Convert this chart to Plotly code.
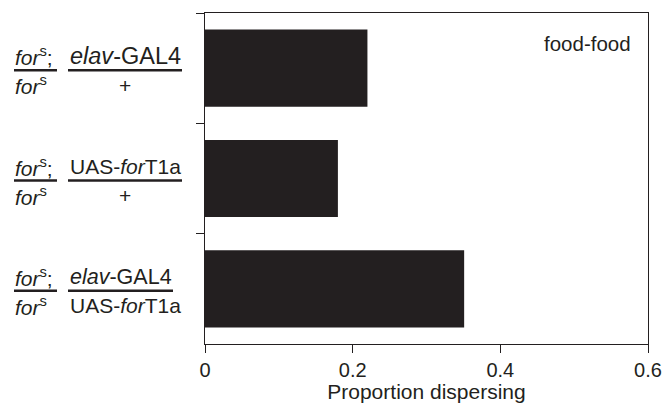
import plotly.graph_objects as go

# ---- data ----
genotypes = ["fors; elav-GAL4 / +", "fors; UAS-forT1a / +", "fors; elav-GAL4 / UAS-forT1a"]
proportion = [0.22, 0.18, 0.351]
left_num = ["<i>for</i><sup>s</sup>;"] * 3
left_den = ["<i>for</i><sup>s</sup>"] * 3
right_num = ["<i>elav</i>-GAL4", "UAS-<i>for</i>T1a", "<i>elav</i>-GAL4"]
right_den = ["+", "+", "UAS-<i>for</i>T1a"]
x_ticks = [0, 0.2, 0.4, 0.6]
x_tick_text = ["0", "0.2", "0.4", "0.6"]
condition_label = "food-food"
x_title = "Proportion dispersing"

INK = "#231f20"
FONT = "Liberation Sans, Arial, sans-serif"

fig = go.Figure()
fig.add_trace(go.Bar(
    x=proportion, y=genotypes, orientation="h",
    marker=dict(color=INK, line=dict(width=0)), width=0.7,
    hoverinfo="x",
))

annotations = []
shapes = []
right_num_sizes = [23.5, 21, 21.5]
right_num_shift = [-80, -80, -84]
for i, g in enumerate(genotypes):
    annotations.append(dict(x=0, xref="paper", y=i, yref="y", xanchor="left", yanchor="middle",
                            xshift=-192, yshift=12, text=left_num[i], showarrow=False,
                            font=dict(size=21, color=INK, family=FONT)))
    annotations.append(dict(x=0, xref="paper", y=i, yref="y", xanchor="left", yanchor="middle",
                            xshift=-192, yshift=-17, text=left_den[i], showarrow=False,
                            font=dict(size=21, color=INK, family=FONT)))
    annotations.append(dict(x=0, xref="paper", y=i, yref="y", xanchor="center", yanchor="middle",
                            xshift=right_num_shift[i], yshift=12, text=right_num[i], showarrow=False,
                            font=dict(size=right_num_sizes[i], color=INK, family=FONT)))
    annotations.append(dict(x=0, xref="paper", y=i, yref="y", xanchor="center", yanchor="middle",
                            xshift=-80, yshift=-17, text=right_den[i], showarrow=False,
                            font=dict(size=21, color=INK, family=FONT)))
    rx1 = -23 if i < 2 else -32
    for (a, b) in [(-191, -148), (-137, rx1)]:
        shapes.append(dict(type="line", xref="paper", xsizemode="pixel", xanchor=0,
                           x0=a, x1=b, yref="y", ysizemode="pixel", yanchor=i,
                           y0=-2, y1=-2, line=dict(color=INK, width=2.5)))

annotations.append(dict(x=1, xref="paper", y=1, yref="paper", xanchor="right", yanchor="top",
                        xshift=-15, yshift=-17, text=condition_label, showarrow=False,
                        font=dict(size=20.5, color=INK, family=FONT)))

fig.update_layout(
    width=662, height=403,
    margin=dict(l=205, r=14, t=13, b=59, autoexpand=False),
    paper_bgcolor="white", plot_bgcolor="white",
    showlegend=False,
    font=dict(family=FONT, color=INK, size=20),
    annotations=annotations, shapes=shapes,
    bargap=0.3,
)
fig.update_xaxes(
    range=[0, 0.6], tickvals=x_ticks, ticktext=x_tick_text,
    showline=True, linecolor=INK, linewidth=1.3, mirror=True,
    ticks="outside", ticklen=8, tickwidth=1.3, tickcolor=INK,
    showgrid=False, zeroline=False, automargin=False,
    tickfont=dict(size=20, color=INK, family=FONT),
    title=dict(text=x_title, font=dict(size=21, color=INK, family=FONT), standoff=2),
)
fig.update_yaxes(
    type="category", range=[2.5, -0.5],
    showline=True, linecolor=INK, linewidth=1.3, mirror=True,
    ticks="outside", ticklen=8, tickwidth=1.3, tickcolor=INK, tickson="boundaries",
    showticklabels=False, showgrid=False, zeroline=False, automargin=False,
)

fig.write_html(
    "out.html",
    config={"displayModeBar": False},
    post_script="document.body.style.margin='0';document.body.style.overflow='hidden';",
)
